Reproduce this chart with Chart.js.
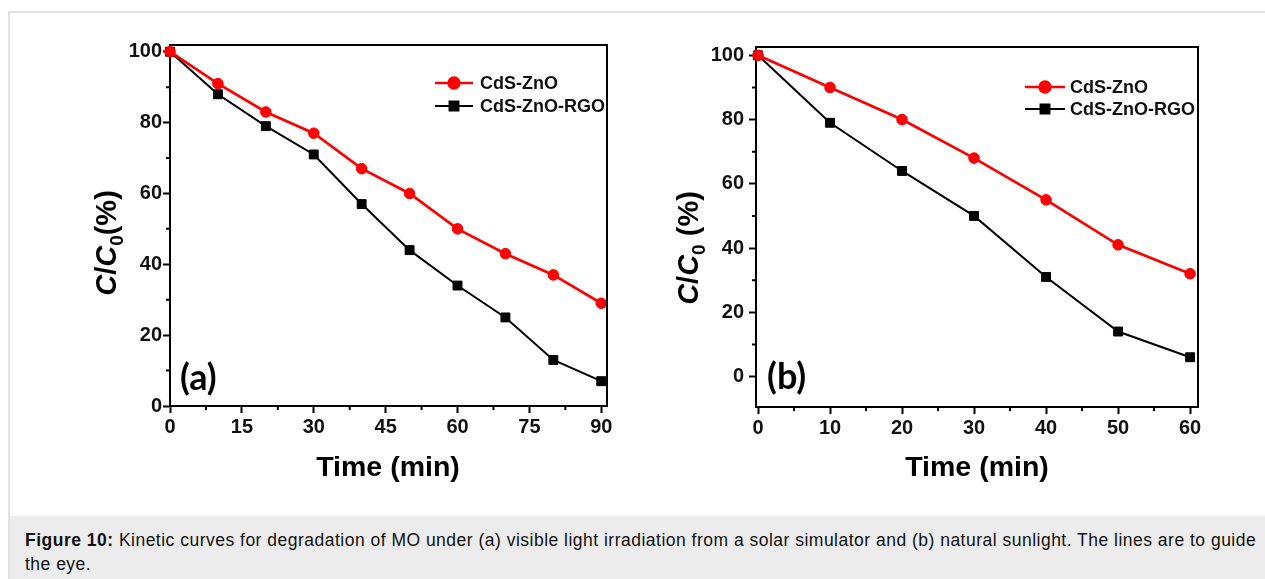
<!DOCTYPE html>
<html>
<head>
<meta charset="utf-8">
<script src="https://cdn.jsdelivr.net/npm/chart.js@4/dist/chart.umd.min.js"></script>
<style>
  body{margin:0;background:#fff;width:1265px;height:579px;overflow:hidden;position:relative;font-family:"Liberation Sans",Arial,sans-serif;}
  #frame{position:absolute;left:8px;top:11px;width:1257px;height:568px;border-left:2px solid #e2e2e2;border-top:2px solid #e2e2e2;}
  #chartA{position:absolute;left:60px;top:20px;}
  #chartB{position:absolute;left:640px;top:20px;}
  #caption{position:absolute;left:10px;top:516px;width:1255px;height:63px;background:#ececec;box-sizing:border-box;padding:12px 0 0 15px;font-size:17.5px;letter-spacing:0.49px;line-height:24px;color:#111;white-space:nowrap;}
</style>
</head>
<body>
<div id="frame"></div>
<canvas id="chartA" width="570" height="480"></canvas>
<canvas id="chartB" width="570" height="480"></canvas>
<div id="caption"><b>Figure 10:</b> Kinetic curves for degradation of MO under (a) visible light irradiation from a solar simulator and (b) natural sunlight. The lines are to guide<br>the eye.</div>
<script>
// panel (a) - solar simulator
const timeA=[0,10,20,30,40,50,60,70,80,90];
const cdsZnoA=[100,91,83,77,67,60,50,43,37,29];
const rgoA=[100,88,79,71,57,44,34,25,13,7];
const xTicksA=[0,15,30,45,60,75,90];
const xMinorA=[7.5,22.5,37.5,52.5,67.5,82.5];
const yTicksA=[0,20,40,60,80,100];
const yMinorA=[10,30,50,70,90];

// panel (b) - natural sunlight
const timeB=[0,10,20,30,40,50,60];
const cdsZnoB=[100,90,80,68,55,41,32];
const rgoB=[100,79,64,50,31,14,6];
const xTicksB=[0,10,20,30,40,50,60];
const xMinorB=[5,15,25,35,45,55];
const yTicksB=[0,20,40,60,80,100];
const yMinorB=[10,30,50,70,90];

const seriesNames=["CdS-ZnO","CdS-ZnO-RGO"];

const FONT='"Liberation Sans", Arial, sans-serif';

function pts(xs,ys){return xs.map((x,i)=>({x:x,y:ys[i]}));}

// frame, minor ticks, axis titles, legend, panel letter
const extras={
  id:'extras',
  afterDraw(chart,args,o){
    const ctx=chart.ctx, a=chart.chartArea, xs=chart.scales.x, ys=chart.scales.y;
    ctx.save();
    ctx.strokeStyle='#000';ctx.lineWidth=2;
    ctx.beginPath();
    ctx.moveTo(a.left,a.top);ctx.lineTo(a.right,a.top);ctx.lineTo(a.right,a.bottom);
    ctx.stroke();
    // minor ticks
    ctx.beginPath();
    o.xMinor.forEach(v=>{const p=xs.getPixelForValue(v);ctx.moveTo(p,a.bottom);ctx.lineTo(p,a.bottom+4);});
    o.yMinor.forEach(v=>{const p=ys.getPixelForValue(v);ctx.moveTo(a.left,p);ctx.lineTo(a.left-4,p);});
    ctx.stroke();
    ctx.fillStyle='#000';
    // x title
    ctx.font='bold 28.5px '+FONT;ctx.textAlign='center';ctx.textBaseline='middle';
    ctx.fillText('Time (min)',o.xTitle[0],o.xTitle[1]);
    // y title C/C0(%)
    const parts=[['C','italic bold 29px',0],['/','bold 29px',0],['C','italic bold 29px',0],['0','bold 19px',7],[o.tail,'bold 29px',0]];
    let w=0;parts.forEach(p=>{ctx.font=p[1]+' '+FONT;w+=ctx.measureText(p[0]).width;});
    ctx.translate(o.yTitle[0],o.yTitle[1]);ctx.rotate(-Math.PI/2);
    ctx.textAlign='left';ctx.textBaseline='alphabetic';
    let cx=-w/2;
    parts.forEach(p=>{ctx.font=p[1]+' '+FONT;ctx.fillText(p[0],cx,10+p[2]);cx+=ctx.measureText(p[0]).width;});
    ctx.setTransform(1,0,0,1,0,0);
    // legend
    ctx.font='bold 18px '+FONT;ctx.textBaseline='middle';ctx.textAlign='left';
    chart.data.datasets.forEach((d,i)=>{
      const y=o.legend[1]+i*o.legend[4];
      ctx.strokeStyle=d.borderColor;ctx.lineWidth=d.borderWidth;
      ctx.beginPath();ctx.moveTo(o.legend[0],y);ctx.lineTo(o.legend[2],y);ctx.stroke();
      Chart.helpers.drawPoint(ctx,{pointStyle:d.pointStyle,radius:d.pointRadius,borderWidth:1,rotation:0},(o.legend[0]+o.legend[2])/2,y);
      ctx.fillStyle=d.borderColor;ctx.fill();
      ctx.fillStyle='#111';
      ctx.fillText(d.label,o.legend[3],y+1);
    });
    // panel letter
    ctx.font='bold 36px Lato, "Open Sans", sans-serif';ctx.textBaseline='middle';ctx.fillStyle='#000';
    ctx.fillText(o.letter,o.letterPos[0],o.letterPos[1]);
    ctx.restore();
  }
};

function makeChart(id,times,s1,s2,cfg){
  return new Chart(document.getElementById(id),{
    type:'line',
    data:{datasets:[
      {label:seriesNames[0],data:pts(times,s1),borderColor:'#ff0000',backgroundColor:'#ff0000',borderWidth:2.7,
       pointStyle:'circle',pointRadius:5.3,pointBorderWidth:1,clip:false},
      {label:seriesNames[1],data:pts(times,s2),borderColor:'#000000',backgroundColor:'#000000',borderWidth:2,
       pointStyle:'rect',pointRadius:6.3,pointBorderWidth:1,clip:false}
    ]},
    options:{
      responsive:false,animation:false,
      layout:{padding:{top:cfg.padTop,right:cfg.padRight,left:0,bottom:0}},
      plugins:{legend:{display:false},tooltip:{enabled:false},
        extras:cfg.extras},
      scales:{
        x:{type:'linear',min:cfg.xMin,max:cfg.xMax,
          afterBuildTicks:s=>{s.ticks=cfg.xTicks.map(v=>({value:v}));},
          afterFit:s=>{s.height=cfg.xH;},
          ticks:{color:'#111',font:{family:FONT,weight:'bold',size:20},padding:2,maxRotation:0,autoSkip:false},
          grid:{drawOnChartArea:false,drawTicks:true,tickLength:7,tickWidth:2,tickColor:'#000'},
          border:{display:true,color:'#000',width:2}},
        y:{type:'linear',min:cfg.yMin,max:cfg.yMax,
          afterBuildTicks:s=>{s.ticks=cfg.yTicks.map(v=>({value:v}));},
          afterFit:s=>{s.width=cfg.yW;},
          ticks:{color:'#111',font:{family:FONT,weight:'bold',size:20},padding:cfg.yPad,autoSkip:false},
          grid:{drawOnChartArea:false,drawTicks:true,tickLength:7,tickWidth:2,tickColor:'#000'},
          border:{display:true,color:'#000',width:2}}
      }
    },
    plugins:[extras]
  });
}

makeChart('chartA',timeA,cdsZnoA,rgoA,{
  padTop:25,padRight:23,xH:94,yW:110,yPad:1,xMin:0,xMax:91.2,yMin:0,yMax:101.9,
  xTicks:xTicksA,yTicks:yTicksA,
  extras:{xMinor:xMinorA,yMinor:yMinorA,xTitle:[328,448],yTitle:[46,223],tail:'(%)',
    legend:[375,63,413,420,23],letter:'(a)',letterPos:[120,358]}
});
makeChart('chartB',timeB,cdsZnoB,rgoB,{
  padTop:27,padRight:12,xH:93,yW:116,yPad:5,xMin:-0.28,xMax:61.1,yMin:-9.5,yMax:102.6,
  xTicks:xTicksB,yTicks:yTicksB,
  extras:{xMinor:xMinorB,yMinor:yMinorB,xTitle:[337,448],yTitle:[48,228],tail:' (%)',
    legend:[385,67,425,430,22],letter:'(b)',letterPos:[127,357]}
});
</script>
</body>
</html>
